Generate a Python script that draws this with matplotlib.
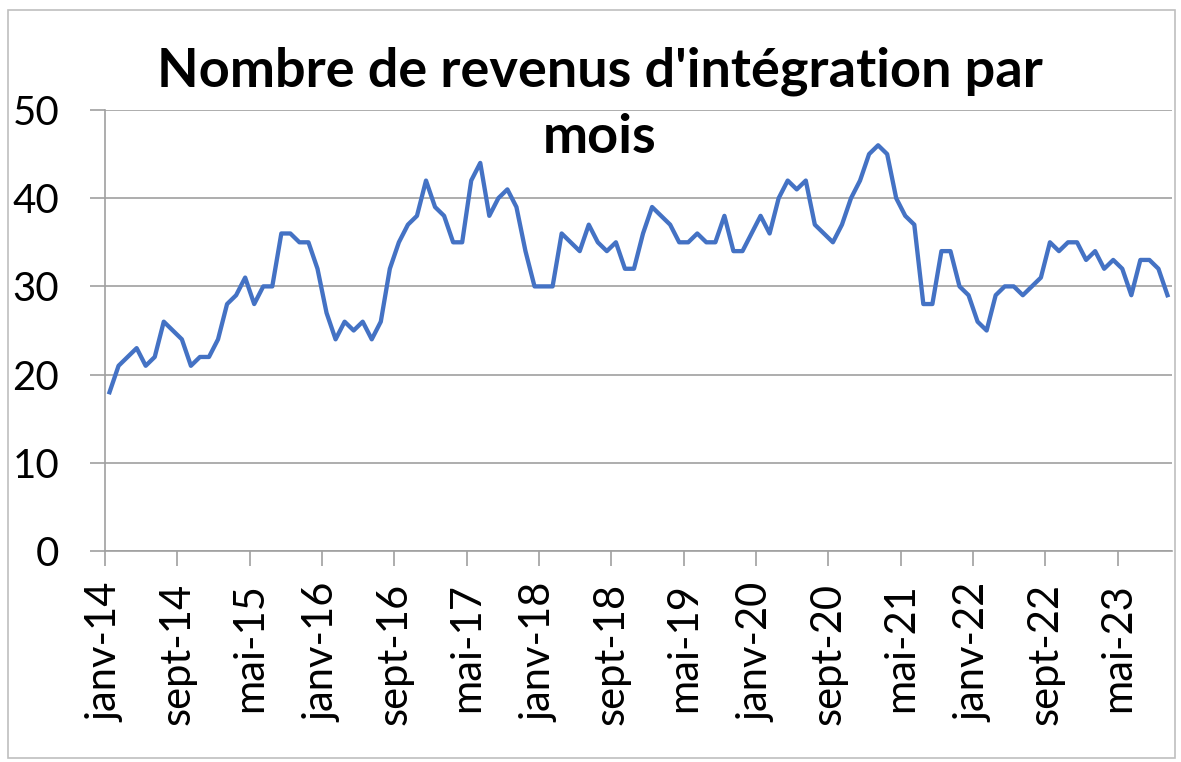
import numpy as np
import matplotlib
matplotlib.use("Agg")
import matplotlib.pyplot as plt
from matplotlib.patches import Rectangle

# monthly counts, janv-14 .. oct-23
values = [
    18, 21, 22, 23, 21, 22, 26, 25, 24, 21, 22, 22,   # 2014
    24, 28, 29, 31, 28, 30, 30, 36, 36, 35, 35, 32,   # 2015
    27, 24, 26, 25, 26, 24, 26, 32, 35, 37, 38, 42,   # 2016
    39, 38, 35, 35, 42, 44, 38, 40, 41, 39, 34, 30,   # 2017
    30, 30, 36, 35, 34, 37, 35, 34, 35, 32, 32, 36,   # 2018
    39, 38, 37, 35, 35, 36, 35, 35, 38, 34, 34, 36,   # 2019
    38, 36, 40, 42, 41, 42, 37, 36, 35, 37, 40, 42,   # 2020
    45, 46, 45, 40, 38, 37, 28, 28, 34, 34, 30, 29,   # 2021
    26, 25, 29, 30, 30, 29, 30, 31, 35, 34, 35, 35,   # 2022
    33, 34, 32, 33, 32, 29, 33, 33, 32, 29,           # 2023
]
tick_labels = ["janv-14", "sept-14", "mai-15", "janv-16", "sept-16", "mai-17",
               "janv-18", "sept-18", "mai-19", "janv-20", "sept-20", "mai-21",
               "janv-22", "sept-22", "mai-23"]
title_lines = ["Nombre de revenus d'intégration par", "mois"]

plt.rcParams["font.family"] = ["Lato", "DejaVu Sans"]

W, H = 1181, 762
fig = plt.figure(figsize=(W / 100, H / 100), dpi=100)
ax = fig.add_axes([105 / W, 1 - 551 / H, (1172 - 105) / W, (551 - 110) / H])

x = np.arange(len(values))
ax.plot(x, values, color="#4472C4", lw=3.1, solid_joinstyle="round")

grey = "#A0A0A0"
ax.set_ylim(0, 50)
ax.set_yticks(range(0, 51, 10))
ax.set_xlim(-0.5, len(values) - 0.5)
ax.set_xticks(np.arange(len(tick_labels)) * 8 - 0.5)
ax.set_xticklabels(tick_labels, rotation=90)
ax.grid(axis="y", color=grey, lw=1.2)
ax.set_axisbelow(True)

for s in ["top", "right"]:
    ax.spines[s].set_visible(False)
for s in ["left", "bottom"]:
    ax.spines[s].set_color(grey)
    ax.spines[s].set_linewidth(1.2)

ax.tick_params(axis="y", length=11, width=1.2, color=grey, pad=22, labelsize=29)
ax.tick_params(axis="x", length=11, width=1.2, color=grey, pad=12, labelsize=30)

for i, line in enumerate(title_lines):
    fig.text(600 / W, 1 - (87 + 66 * i) / H, line, ha="center", va="baseline",
             fontsize=39, fontweight="bold")

fig.patches.append(Rectangle((8 / W, 1 - 758 / H), (1175 - 8) / W, (758 - 10) / H,
                             transform=fig.transFigure, fill=False,
                             edgecolor="#BFBFBF", lw=1.2))

fig.savefig("out.png", dpi=100)
